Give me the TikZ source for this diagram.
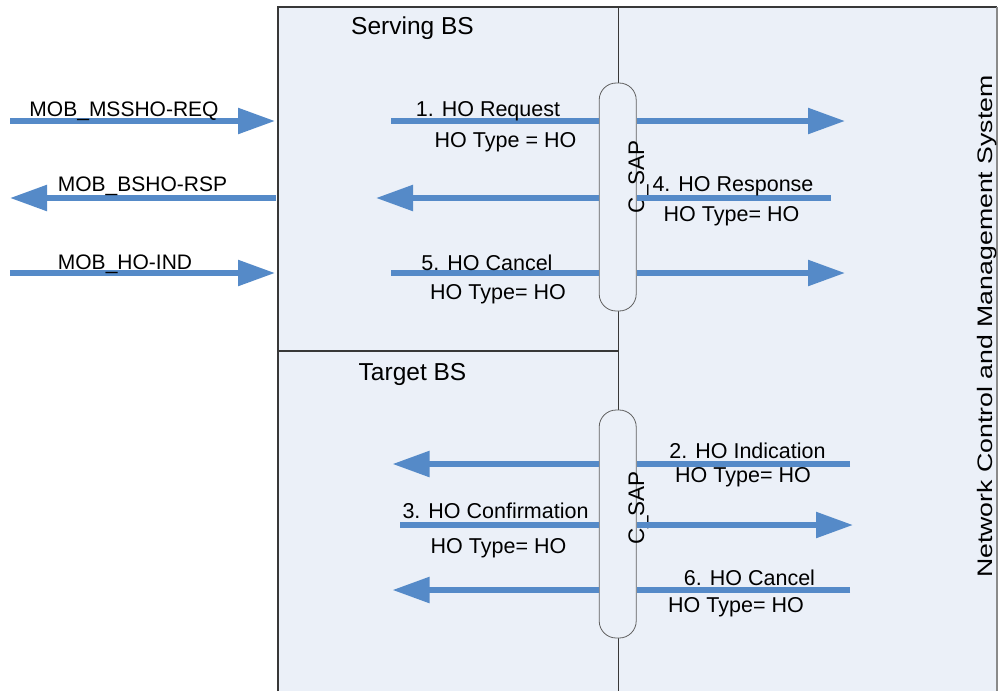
\documentclass[tikz,border=0pt]{standalone}
\usepackage{fontspec}
\setmainfont{Liberation Sans}
\usetikzlibrary{arrows.meta}
\definecolor{panelfill}{HTML}{EBF0F8}
\definecolor{msgblue}{HTML}{558AC8}
\definecolor{rulegray}{HTML}{383838}
\definecolor{edgegray}{HTML}{8A8A8A}
\tikzset{
  msg/.style={draw=msgblue, line width=5.5pt},
  msgarrow/.style={msg, -{Triangle[length=37pt,width=25pt]}},
  lbl/.style={anchor=base, inner sep=0pt, font=\fontsize{21.5}{24}\selectfont},
  moblbl/.style={anchor=base, inner sep=0pt, font=\fontsize{21}{24}\selectfont},
  title/.style={anchor=base, inner sep=0pt, font=\fontsize{24.5}{28}\selectfont},
  sap/.style={draw=rulegray!80, line width=0.8pt, fill=panelfill, rounded corners=17pt,
              minimum width=37pt, minimum height=228pt, inner sep=0pt},
  saplbl/.style={rotate=90, anchor=base, inner sep=0pt, font=\fontsize{22.5}{24}\selectfont},
}
\begin{document}
\begin{tikzpicture}[x=1pt, y=-1pt]
\useasboundingbox (0,0) rectangle (998,691);

% panels: Serving BS, Target BS and the management system
\fill[panelfill] (278,7) rectangle (998,691);
\draw[rulegray, line width=1.1pt] (278,691) -- (278,7) -- (997,7);
\draw[edgegray, line width=1.1pt] (997,7) -- (997,691);
\draw[rulegray, line width=1.1pt] (618.5,7) -- (618.5,691);
\draw[rulegray, line width=1.1pt] (278,351) -- (618.5,351);

% service access points
\node[sap] (cap1) at (617.7,197) {};
\node[sap] (cap2) at (617.7,524) {};
\node[saplbl] (sap1) at (644,177) {C\_SAP};
\node[saplbl] (sap2) at (644,508) {C\_SAP};

% titles
\node[title] (serving) at (412.5,34) {Serving BS};
\node[title] (target) at (412.5,380) {Target BS};
\node[rotate=90, anchor=base, inner sep=0pt, font=\fontsize{21}{24}\selectfont] (ncms)
  at (992,326.5) {\scalebox{1.27}[1]{Network Control and Management System}};

% air-interface messages
\coordinate (mreqA) at (10,121);    \coordinate (mreqB) at (275,121);
\coordinate (mrspA) at (276,198);   \coordinate (mrspB) at (10,198);
\coordinate (mindA) at (10,273);    \coordinate (mindB) at (275,273);
\draw[msgarrow] (mreqA) -- (mreqB);
\draw[msgarrow] (mrspA) -- (mrspB);
\draw[msgarrow] (mindA) -- (mindB);
\node[moblbl] (lreq) at (124,116) {MOB\_MSSHO-REQ};
\node[moblbl] (lrsp) at (142.5,191.5) {MOB\_BSHO-RSP};
\node[moblbl] (lind) at (125,269) {MOB\_HO-IND};

% serving BS primitives
\coordinate (s1a) at (391,121);  \coordinate (s1b) at (845,121);
\coordinate (s4a) at (831,198);  \coordinate (s4b) at (376,198);
\coordinate (s5a) at (391,273);  \coordinate (s5b) at (845,273);
\draw[msg] (s1a) -- (s1a -| cap1.west);
\draw[msgarrow] (s1a -| cap1.east) -- (s1b);
\draw[msg] (s4a) -- (s4a -| cap1.east);
\draw[msgarrow] (s4a -| cap1.west) -- (s4b);
\draw[msg] (s5a) -- (s5a -| cap1.west);
\draw[msgarrow] (s5a -| cap1.east) -- (s5b);

\node[lbl] (t1) at (488,116) {1. HO Request};
\node[lbl] (t1b) at (505.5,147.5) {HO Type = HO};
\node[lbl] (t4) at (733,191.5) {4. HO Response};
\node[lbl] (t4b) at (731.5,221.5) {HO Type= HO};
\node[lbl] (t5) at (487,270) {5. HO Cancel};
\node[lbl] (t5b) at (498,299.5) {HO Type= HO};

% target BS primitives
\coordinate (g2a) at (850,464);  \coordinate (g2b) at (392.5,464);
\coordinate (g3a) at (400,525);  \coordinate (g3b) at (853,525);
\coordinate (g6a) at (850,590);  \coordinate (g6b) at (392.5,590);
\draw[msg] (g2a) -- (g2a -| cap2.east);
\draw[msgarrow] (g2a -| cap2.west) -- (g2b);
\draw[msg] (g3a) -- (g3a -| cap2.west);
\draw[msgarrow] (g3a -| cap2.east) -- (g3b);
\draw[msg] (g6a) -- (g6a -| cap2.east);
\draw[msgarrow] (g6a -| cap2.west) -- (g6b);

\node[lbl] (t2) at (747.5,458.3) {2. HO Indication};
\node[lbl] (t2b) at (743,482.3) {HO Type= HO};
\node[lbl] (t3) at (495.5,518.3) {3. HO Confirmation};
\node[lbl] (t3b) at (498.5,553.3) {HO Type= HO};
\node[lbl] (t6) at (749.5,585) {6. HO Cancel};
\node[lbl] (t6b) at (736,612.3) {HO Type= HO};
\end{tikzpicture}
\end{document}
